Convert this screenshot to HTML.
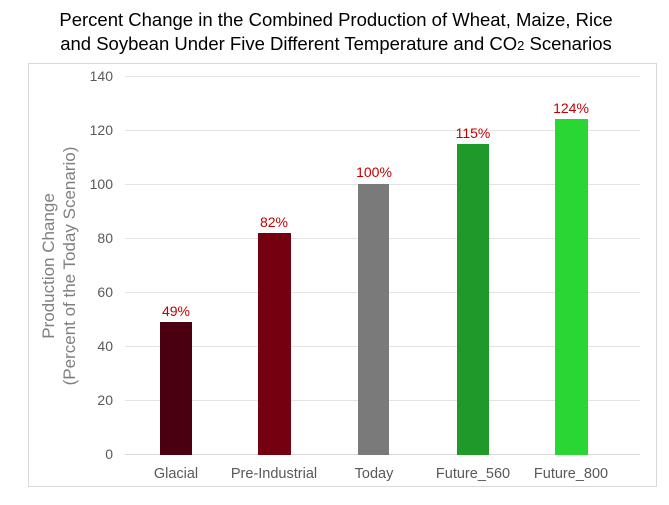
<!DOCTYPE html>
<html><head><style>
body{margin:0;background:#fff;width:669px;height:500px;overflow:hidden;font-family:"Liberation Sans",Arial,sans-serif}
</style></head><body>
<svg width="669" height="500" xmlns="http://www.w3.org/2000/svg" font-family="Liberation Sans, Arial, sans-serif">
<text x="336" y="26" font-size="18.5" text-anchor="middle" fill="#000">Percent Change in the Combined Production of Wheat, Maize, Rice</text>
<text x="336" y="50" font-size="18.5" text-anchor="middle" fill="#000">and Soybean Under Five Different Temperature and CO<tspan font-size="13">2</tspan> Scenarios</text>
<rect x="28.5" y="63.5" width="628" height="423" fill="none" stroke="#d9d9d9"/>
<g stroke="#e3e3e3" stroke-width="1">
<line x1="125" x2="640" y1="76.5" y2="76.5"/>
<line x1="125" x2="640" y1="130.5" y2="130.5"/>
<line x1="125" x2="640" y1="184.5" y2="184.5"/>
<line x1="125" x2="640" y1="238.5" y2="238.5"/>
<line x1="125" x2="640" y1="292.5" y2="292.5"/>
<line x1="125" x2="640" y1="346.5" y2="346.5"/>
<line x1="125" x2="640" y1="400.5" y2="400.5"/>
<line x1="125" x2="640" y1="454.5" y2="454.5" stroke="#d9d9d9"/>
</g>
<g font-size="14" fill="#595959" text-anchor="end">
<text x="113" y="81">140</text><text x="113" y="135">120</text><text x="113" y="189">100</text>
<text x="113" y="243">80</text><text x="113" y="297">60</text><text x="113" y="351">40</text>
<text x="113" y="405">20</text><text x="113" y="459">0</text>
</g>
<g font-size="17" fill="#7f7f7f" text-anchor="middle">
<text transform="translate(54,266) rotate(-90)">Production Change</text>
<text transform="translate(75,266) rotate(-90)">(Percent of the Today Scenario)</text>
</g>
<rect x="160" y="322" width="32" height="133" fill="#4a0010"/>
<rect x="258" y="233" width="33" height="222" fill="#750010"/>
<rect x="358" y="184" width="31" height="271" fill="#7a7a7a"/>
<rect x="457" y="144" width="32" height="311" fill="#1f9a2a"/>
<rect x="555" y="119" width="33" height="336" fill="#2ad633"/>
<g font-size="14" fill="#c00000" text-anchor="middle">
<text x="176" y="316">49%</text><text x="274" y="227">82%</text><text x="374" y="177">100%</text>
<text x="473" y="138">115%</text><text x="571" y="113">124%</text>
</g>
<g font-size="14.5" fill="#595959" text-anchor="middle">
<text x="176" y="478">Glacial</text><text x="274" y="478">Pre-Industrial</text><text x="374" y="478">Today</text>
<text x="473" y="478">Future_560</text><text x="571" y="478">Future_800</text>
</g>
</svg>
</body></html>
